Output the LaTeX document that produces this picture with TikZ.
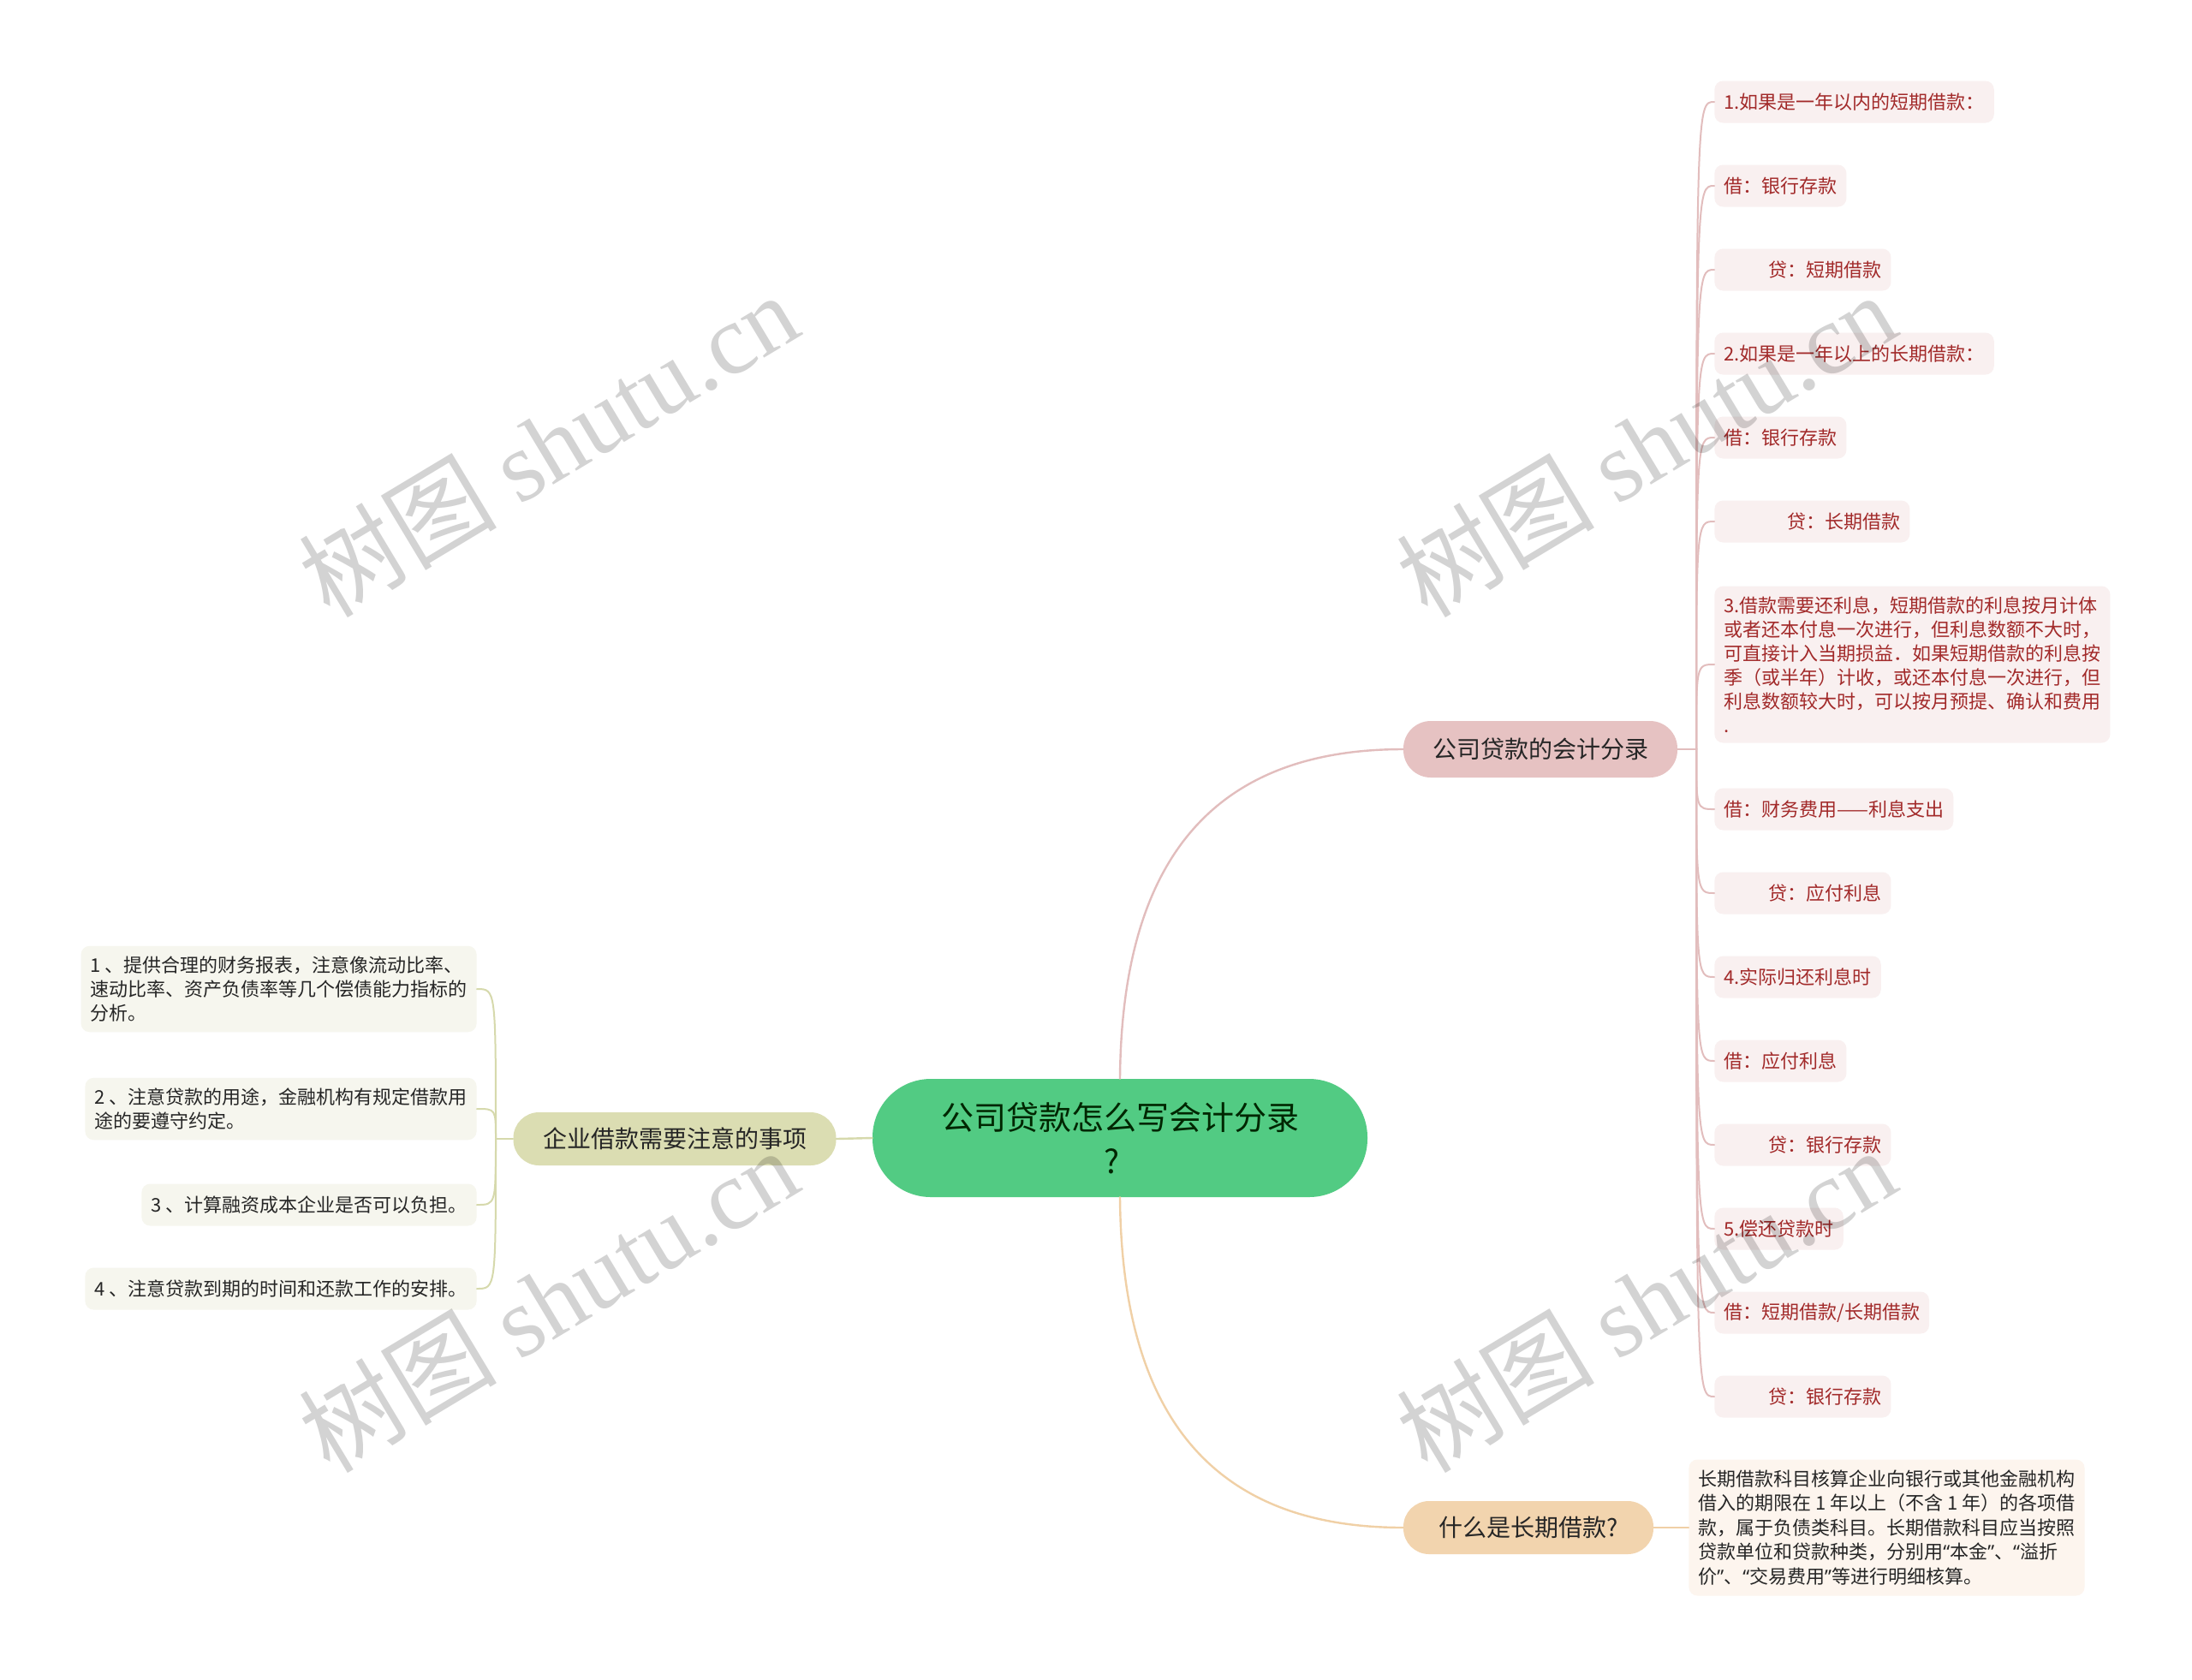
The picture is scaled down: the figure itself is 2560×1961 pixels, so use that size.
\documentclass[tikz,border=0pt]{standalone}
\usepackage{fontspec}
\setmainfont{Noto Sans CJK SC}
\newfontfamily\wmfont{Liberation Serif}
\newfontfamily\latinq{Noto Sans}
\newcommand\qopen{{\latinq “}}
\newcommand\qclose{{\latinq ”}}
\definecolor{rootgreen}{HTML}{52CB83}
\definecolor{acctpink}{HTML}{E6C2C2}
\definecolor{acctline}{HTML}{E2BDBD}
\definecolor{acctleaf}{HTML}{F9F0F0}
\definecolor{accttext}{HTML}{A22A2A}
\definecolor{longpeach}{HTML}{F2D4AE}
\definecolor{longline}{HTML}{F0D0A6}
\definecolor{longleaf}{HTML}{FDF5EE}
\definecolor{noteolive}{HTML}{DBDDB2}
\definecolor{noteline}{HTML}{D6D9AC}
\definecolor{noteleaf}{HTML}{F6F6EE}
\definecolor{inkdark}{HTML}{262626}
\definecolor{wmgrey}{HTML}{D3D3D3}
\tikzset{
  topic/.style={rounded corners=#1, inner sep=0pt, align=center, text=inkdark},
  rleaf/.style={fill=acctleaf, text=accttext, rounded corners=5pt, anchor=west,
    inner xsep=5.5pt, inner ysep=6pt, minimum height=24.5pt, align=left,
    font=\fontsize{11}{14}\selectfont},
  lleaf/.style={fill=noteleaf, text=inkdark, rounded corners=5pt, anchor=east,
    inner xsep=5.5pt, inner ysep=6pt, minimum height=24.5pt, align=left,
    font=\fontsize{11}{14}\selectfont},
  wmark/.style={text=wmgrey, rotate=31, font=\fontsize{58}{62}\selectfont}
}
\begin{document}
\begin{tikzpicture}[x=0.5pt, y=-0.5pt, line cap=round, line join=round]
  \fill[white] (0,0) rectangle (2560,1961);
  \useasboundingbox (0,0) rectangle (2560,1961);
  \node[topic=34pt, fill=rootgreen, minimum width=289pt, minimum height=69pt,
    font=\fontsize{19}{25.3}\selectfont, text=black!85!green] (root) at (1308,1329)
    {公司贷款怎么写会计分录\\\hspace*{-10pt}?};
  \node[topic=16pt, fill=acctpink, minimum width=160pt, minimum height=33pt,
    font=\fontsize{14}{16}\selectfont] (acct) at (1799,875) {公司贷款的会计分录};
  \node[topic=15pt, fill=longpeach, minimum width=146pt, minimum height=31pt,
    font=\fontsize{14}{16}\selectfont] (longq) at (1785,1784) {什么是长期借款?};
  \node[topic=15pt, fill=noteolive, minimum width=188.5pt, minimum height=31pt,
    font=\fontsize{14}{16}\selectfont] (notes) at (788,1330) {企业借款需要注意的事项};
  \path (1981,875) coordinate (stemR)
    (579,1330) coordinate (stemL);
  \foreach \n/\y/\t in {r1/119/{1.如果是一年以内的短期借款：}, r2/217/{借：银行存款},
      r3/315/{\hspace*{26pt}贷：短期借款}, r4/413/{2.如果是一年以上的长期借款：},
      r5/511/{借：银行存款}, r6/609/{\hspace*{37pt}贷：长期借款},
      r8/945/{借：财务费用——利息支出}, r9/1043/{\hspace*{26pt}贷：应付利息},
      r10/1141/{4.实际归还利息时}, r11/1239/{借：应付利息},
      r12/1337/{\hspace*{26pt}贷：银行存款}, r13/1435/{5.偿还贷款时},
      r14/1533/{借：短期借款/长期借款}, r15/1631/{\hspace*{26pt}贷：银行存款}}{
    \node[rleaf] (\n) at (2002,\y) {\t};
  }
  \node[rleaf] (r7) at (2002,776) {3.借款需要还利息，短期借款的利息按月计体\\
    或者还本付息一次进行，但利息数额不大时，\\
    可直接计入当期损益．如果短期借款的利息按\\
    季（或半年）计收，或还本付息一次进行，但\\
    利息数额较大时，可以按月预提、确认和费用\\
    .};
  \node[rleaf, fill=longleaf, text=inkdark, font=\fontsize{11}{14.3}\selectfont] (q1) at (1972,1784)
    {长期借款科目核算企业向银行或其他金融机构\\
    借入的期限在 1 年以上（不含 1 年）的各项借\\
    款，属于负债类科目。长期借款科目应当按照\\
    贷款单位和贷款种类，分别用\qopen 本金\qclose 、\qopen 溢折\\
    价\qclose 、\qopen 交易费用\qclose 等进行明细核算。};
  \node[lleaf] (l1) at (557,1155) {1 、提供合理的财务报表，注意像流动比率、\\
    速动比率、资产负债率等几个偿债能力指标的\\
    分析。};
  \node[lleaf] (l2) at (557,1295) {2 、注意贷款的用途，金融机构有规定借款用\\
    途的要遵守约定。};
  \node[lleaf] (l3) at (557,1407) {3 、计算融资成本企业是否可以负担。};
  \node[lleaf] (l4) at (557,1505) {4 、注意贷款到期的时间和还款工作的安排。};
  \draw[acctline, line width=1.2pt] (root.north) .. controls (1310,1000) and (1420,875) .. (acct.west);
  \draw[longline, line width=1.2pt] (root.south) .. controls (1310,1658) and (1420,1784) .. (longq.west);
  \draw[noteline, line width=1.2pt] (root.west) -- (notes.east);
  \draw[longline, line width=1.2pt] (longq.east) -- (q1.west);
  \draw[acctline, line width=1.2pt] (acct.east) -- (stemR);
  \draw[noteline, line width=1.2pt] (notes.west) -- (stemL);
  \foreach \n in {r1,r2,r3,r4,r5,r6,r7,r8,r9,r10,r11,r12,r13,r14,r15}{
    \draw[acctline, line width=1pt] (stemR) .. controls (stemR |- \n.west) .. (\n.west);
  }
  \foreach \n in {l1,l2,l3,l4}{
    \draw[noteline, line width=1pt] (stemL) .. controls (stemL |- \n.east) .. (\n.east);
  }
  \begin{scope}[blend mode=multiply]
    \foreach \p [count=\i] in {(640,519),(1922,519),(640,1518),(1922,1518)}{
      \node[wmark] (wm\i) at \p {树图 {\wmfont shutu.cn}};
    }
  \end{scope}
\end{tikzpicture}
\end{document}
